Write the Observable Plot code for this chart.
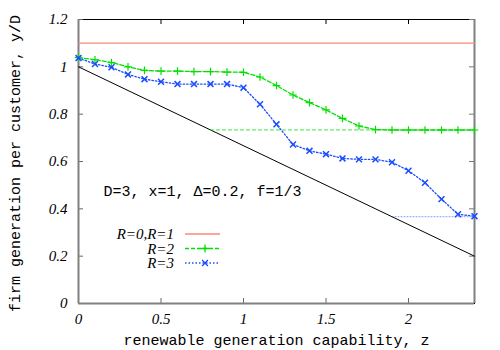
<!DOCTYPE html>
<html><head><meta charset="utf-8">
<script src="https://cdn.jsdelivr.net/npm/d3@7"></script>
<script src="https://cdn.jsdelivr.net/npm/@observablehq/plot@0.6"></script>
<style>body{margin:0;background:#fff} #chart{position:relative;width:500px;height:350px}</style>
</head><body><div id="chart"></div>
<script>
// ---- data ----
const zValues  = [0,0.1,0.2,0.3,0.4,0.5,0.6,0.7,0.8,0.9,1.0,1.1,1.2,1.3,1.4,1.5,1.6,1.7,1.8,1.9,2.0,2.1,2.2,2.3,2.4];
const r2Values = [1.039,1.030,1.018,1.000,0.985,0.982,0.982,0.980,0.980,0.978,0.977,0.957,0.921,0.881,0.849,0.818,0.782,0.750,0.735,0.733,0.733,0.733,0.733,0.733,0.733];
const r3Values = [1.037,1.012,0.998,0.968,0.948,0.937,0.927,0.927,0.927,0.927,0.912,0.842,0.757,0.672,0.645,0.631,0.613,0.609,0.609,0.597,0.561,0.510,0.441,0.377,0.369];
const r01Level = 1.1;
const boundZ = [0, 2.4];          // lower bound line y = 1 - z/3
const boundY = [1, 0.2];
const r2FloorZ = [0.8, 2.4];
const r2Floor = 0.7333;
const r3FloorZ = [1.9, 2.4];
const r3Floor = 0.3667;
const xTicks = [0, 0.5, 1, 1.5, 2];
const yTicks = [0, 0.2, 0.4, 0.6, 0.8, 1, 1.2];
const xDomain = [0, 2.4];
const yDomain = [0, 1.2];
const seriesNames = ["R=0,R=1", "R=2", "R=3"];
const seriesColors = ["#f88a78", "#00e000", "#1a4cff"];
const annotation = "D=3, x=1, \u0394=0.2, f=1/3";
const xLabel = "renewable generation capability, z";
const yLabel = "firm generation per customer, y/D";

// ---- tables ----
const r2Data = zValues.map((z, i) => ({z, y: r2Values[i]}));
const r3Data = zValues.map((z, i) => ({z, y: r3Values[i]}));
const r01Data = xDomain.map(z => ({z, y: r01Level}));
const boundData = boundZ.map((z, i) => ({z, y: boundY[i]}));
const r2FloorData = r2FloorZ.map(z => ({z, y: r2Floor}));
const r3FloorData = r3FloorZ.map(z => ({z, y: r3Floor}));

const W = 500, H = 350, mL = 78, mR = 26, mT = 19, mB = 47;
const plotW = W - mL - mR, plotH = H - mT - mB;
const serif = "Liberation Serif, DejaVu Serif, Times New Roman, serif";
const mono = "Liberation Mono, DejaVu Sans Mono, monospace";
const fmt = d => String(d);

const svg = Plot.plot({
  width: W, height: H,
  marginLeft: mL, marginRight: mR, marginTop: mT, marginBottom: mB,
  x: {domain: xDomain, axis: null},
  y: {domain: yDomain, axis: null},
  style: {background: "#fff"},
  marks: [
    Plot.frame({stroke: "#000", strokeWidth: 1}),
    // inward ticks on all four sides
    Plot.tickX(xTicks, {x: d => d, insetTop: plotH - 5, stroke: "#666"}),
    Plot.tickX(xTicks, {x: d => d, insetBottom: plotH - 5, stroke: "#000"}),
    Plot.tickY(yTicks, {y: d => d, insetRight: plotW - 5, stroke: "#666"}),
    Plot.tickY(yTicks, {y: d => d, insetLeft: plotW - 5, stroke: "#777"}),
    // gray axis borders
    Plot.ruleX(xDomain, {stroke: "#808080", strokeWidth: 2}),
    Plot.ruleY([0], {stroke: "#808080", strokeWidth: 2}),
    // tick labels
    Plot.axisX({ticks: xTicks, tickFormat: fmt, tickSize: 0, tickPadding: 10, label: null,
      fontSize: 15, fontStyle: "italic", fontFamily: serif, fill: "#000"}),
    Plot.axisY({ticks: yTicks, tickFormat: fmt, tickSize: 0, tickPadding: 11, label: null,
      fontSize: 15, fontStyle: "italic", fontFamily: serif, fill: "#000"}),
    // axis titles
    Plot.text([xLabel], {frameAnchor: "bottom", textAnchor: "middle", dy: 41, fontFamily: mono, fontSize: 15, fill: "#000"}),
    Plot.text([yLabel], {frameAnchor: "left", textAnchor: "middle", rotate: -90, dx: -63, dy: 2, fontFamily: mono, fontSize: 15, fill: "#000"}),
    // data
    Plot.line(r01Data, {x: "z", y: "y", stroke: seriesColors[0], strokeWidth: 1.3}),
    Plot.line(boundData, {x: "z", y: "y", stroke: "#000", strokeWidth: 1}),
    Plot.line(r2FloorData, {x: "z", y: "y", stroke: seriesColors[1], strokeWidth: 0.8, strokeDasharray: "3,3"}),
    Plot.line(r3FloorData, {x: "z", y: "y", stroke: seriesColors[2], strokeWidth: 0.8, strokeDasharray: "1,2", strokeOpacity: 0.7}),
    Plot.line(r2Data, {x: "z", y: "y", stroke: seriesColors[1], strokeWidth: 1.3, strokeDasharray: "4,2"}),
    Plot.dot(r2Data, {x: "z", y: "y", symbol: "plus", stroke: seriesColors[1], r: 2.6, strokeWidth: 1.2}),
    Plot.line(r3Data, {x: "z", y: "y", stroke: seriesColors[2], strokeWidth: 1.3, strokeDasharray: "1.5,2"}),
    Plot.dot(r3Data, {x: "z", y: "y", symbol: "times", stroke: seriesColors[2], r: 2.8, strokeWidth: 1.5}),
    // annotation
    Plot.text([annotation], {frameAnchor: "top-left", textAnchor: "start", dx: 25, dy: 166,
      fontFamily: mono, fontSize: 15, fill: "#000"})
  ]
});

// legend (inside plot, lower-left)
const g = d3.select(svg).append("g");
const legendRows = [234, 248.5, 263];
const dashes = [null, "4,2", "1.5,2"];
const symbols = [null, d3.symbolPlus, d3.symbolTimes];
seriesNames.forEach((name, i) => {
  const y = legendRows[i];
  g.append("text").attr("x", 174).attr("y", y).attr("dy", "0.35em")
    .attr("text-anchor", "end").style("font-family", serif).style("font-style", "italic")
    .attr("font-size", 15).attr("fill", "#000").text(name);
  g.append("line").attr("x1", 185).attr("x2", 220).attr("y1", y).attr("y2", y)
    .attr("stroke", seriesColors[i]).attr("stroke-width", 1.3)
    .attr("stroke-dasharray", dashes[i]);
  if (symbols[i]) {
    g.append("path").attr("transform", `translate(205,${y})`)
      .attr("d", d3.symbol(symbols[i], 24)())
      .attr("fill", "none").attr("stroke", seriesColors[i]).attr("stroke-width", 1.3);
  }
});

document.getElementById("chart").appendChild(svg);
</script>
</body></html>
